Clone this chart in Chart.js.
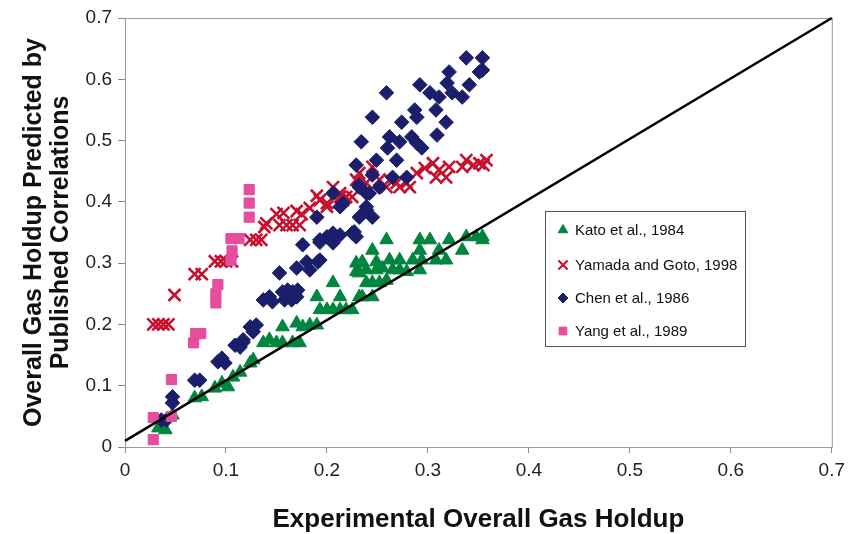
<!DOCTYPE html>
<html>
<head>
<meta charset="utf-8">
<script src="https://cdn.jsdelivr.net/npm/chart.js@4.4.0/dist/chart.umd.min.js"></script>
<style>
  html, body { margin: 0; padding: 0; background: #fff; }
  #wrap { width: 851px; height: 534px; }
</style>
</head>
<body>
<div id="wrap"><canvas id="chart" width="851" height="534"></canvas></div>
<script>
// Kato et al., 1984 (green triangles)
const katoX = [0.033,0.040,0.047,0.069,0.076,0.089,0.096,0.102,0.107,0.114,0.124,0.127,0.137,0.143,0.150,0.156,0.166,0.173,0.156,0.170,0.176,0.183,0.190,0.190,0.193,0.200,0.206,0.213,0.219,0.225,0.213,0.232,0.206,0.229,0.232,0.235,0.245,0.239,0.245,0.252,0.259,0.229,0.239,0.249,0.255,0.265,0.272,0.279,0.235,0.249,0.262,0.272,0.285,0.245,0.259,0.292,0.294,0.308,0.318,0.292,0.292,0.302,0.321,0.311,0.334,0.338,0.348,0.354,0.354];
const katoY = [0.031,0.028,0.052,0.080,0.082,0.096,0.104,0.098,0.114,0.122,0.137,0.142,0.170,0.175,0.170,0.170,0.170,0.170,0.196,0.202,0.196,0.199,0.199,0.245,0.224,0.224,0.224,0.224,0.224,0.224,0.245,0.245,0.268,0.300,0.284,0.245,0.245,0.268,0.268,0.268,0.272,0.286,0.289,0.289,0.292,0.289,0.289,0.286,0.302,0.302,0.305,0.305,0.305,0.321,0.338,0.289,0.305,0.305,0.305,0.321,0.338,0.338,0.338,0.321,0.321,0.343,0.343,0.343,0.338];

// Yamada and Goto, 1998 (red crosses)
const yamadaX = [0.028,0.033,0.038,0.043,0.049,0.069,0.076,0.089,0.095,0.100,0.106,0.124,0.130,0.135,0.138,0.140,0.153,0.160,0.166,0.173,0.150,0.157,0.170,0.175,0.183,0.190,0.200,0.206,0.213,0.219,0.193,0.200,0.213,0.216,0.225,0.229,0.235,0.232,0.239,0.245,0.252,0.259,0.262,0.269,0.272,0.279,0.282,0.289,0.297,0.305,0.311,0.318,0.321,0.308,0.334,0.338,0.351,0.358,0.345,0.355];
const yamadaY = [0.200,0.200,0.200,0.200,0.248,0.282,0.282,0.303,0.303,0.303,0.303,0.338,0.338,0.338,0.359,0.365,0.362,0.362,0.362,0.362,0.380,0.382,0.385,0.380,0.390,0.410,0.398,0.424,0.408,0.408,0.403,0.392,0.414,0.403,0.408,0.436,0.424,0.447,0.431,0.457,0.436,0.424,0.436,0.431,0.424,0.431,0.424,0.447,0.455,0.463,0.452,0.440,0.457,0.440,0.457,0.468,0.463,0.468,0.460,0.460];

// Chen et al., 1986 (navy diamonds)
const chenX = [0.036,0.041,0.047,0.047,0.069,0.074,0.092,0.099,0.096,0.109,0.114,0.117,0.117,0.124,0.130,0.127,0.137,0.143,0.146,0.156,0.161,0.166,0.171,0.158,0.165,0.170,0.153,0.170,0.180,0.183,0.191,0.176,0.193,0.200,0.206,0.213,0.227,0.229,0.190,0.216,0.232,0.239,0.193,0.193,0.206,0.225,0.206,0.213,0.232,0.242,0.239,0.245,0.232,0.239,0.252,0.245,0.265,0.279,0.229,0.249,0.269,0.260,0.234,0.262,0.272,0.284,0.289,0.294,0.245,0.274,0.287,0.289,0.308,0.318,0.309,0.259,0.292,0.302,0.321,0.319,0.338,0.354,0.351,0.354,0.341,0.334,0.324,0.311];
const chenY = [0.044,0.044,0.082,0.072,0.109,0.109,0.139,0.137,0.145,0.166,0.163,0.171,0.175,0.196,0.199,0.188,0.240,0.245,0.237,0.253,0.256,0.253,0.256,0.240,0.240,0.245,0.284,0.292,0.302,0.289,0.302,0.330,0.334,0.343,0.333,0.346,0.351,0.343,0.375,0.398,0.375,0.392,0.338,0.305,0.349,0.349,0.414,0.392,0.424,0.414,0.387,0.375,0.427,0.414,0.424,0.444,0.440,0.440,0.460,0.468,0.468,0.488,0.498,0.506,0.498,0.506,0.496,0.488,0.538,0.530,0.550,0.538,0.550,0.530,0.509,0.578,0.591,0.578,0.612,0.594,0.635,0.635,0.612,0.615,0.591,0.571,0.578,0.571];

// Yang et al., 1989 (pink squares)
const yangX = [0.028,0.028,0.046,0.046,0.068,0.070,0.075,0.090,0.090,0.092,0.105,0.106,0.105,0.113,0.123,0.123,0.123];
const yangY = [0.012,0.048,0.050,0.110,0.170,0.185,0.185,0.235,0.250,0.265,0.305,0.320,0.340,0.340,0.375,0.398,0.420];

// parity line
const lineX = [0, 0.7];
const lineY = [0.01, 0.7];

const axisTicks = [0, 0.1, 0.2, 0.3, 0.4, 0.5, 0.6, 0.7];

const toPoints = (xs, ys) => xs.map((x, i) => ({ x: x, y: ys[i] }));
const fmt = (v) => (Math.abs(v) < 1e-9 ? '0' : v.toFixed(1));

const FONT = 'Arial, "Liberation Sans", Helvetica, sans-serif';
const GREEN = '#00853f';
const RED = '#c8102e';
const NAVY = '#1b1f6b';
const PINK = '#e64d9f';

const series = [
    { label: 'Kato et al., 1984', xs: katoX, ys: katoY, style: 'triangle', color: GREEN, radius: 7.8, lw: 1, lr: 5.5 },
    { label: 'Yamada and Goto, 1998', xs: yamadaX, ys: yamadaY, style: 'crossRot', color: RED, radius: 8.5, lw: 2.6, lr: 6.5 },
    { label: 'Chen et al., 1986', xs: chenX, ys: chenY, style: 'rectRot', color: NAVY, radius: 7.3, lw: 1, lr: 5 },
    { label: 'Yang et al., 1989', xs: yangX, ys: yangY, style: 'rect', color: PINK, radius: 7.2, lw: 1, lr: 5.5 }
];

// 플롯 박스 테두리
const frameBox = {
    id: 'frameBox',
    beforeDatasetsDraw(chart) {
        const { ctx, chartArea: a } = chart;
        ctx.save();
        ctx.strokeStyle = '#9a9a9a';
        ctx.lineWidth = 1;
        ctx.strokeRect(a.left + 0.5, a.top + 0.5, a.right - a.left, a.bottom - a.top);
        ctx.restore();
    }
};

// 플롯 안쪽 범례
const boxLegend = {
    id: 'boxLegend',
    afterDraw(chart) {
        const ctx = chart.ctx;
        const left = 545, top = 211, w = 200, h = 135;
        ctx.save();
        ctx.fillStyle = '#fff';
        ctx.fillRect(left, top, w, h);
        ctx.strokeStyle = '#555';
        ctx.lineWidth = 1;
        ctx.strokeRect(left + 0.5, top + 0.5, w, h);
        ctx.font = '15px ' + FONT;
        ctx.textBaseline = 'middle';
        ctx.textAlign = 'left';
        const rows = [230, 265, 298, 331];
        series.forEach((s, i) => {
            ctx.fillStyle = s.color;
            ctx.strokeStyle = s.color;
            ctx.lineWidth = s.style === 'crossRot' ? 2.2 : 1;
            Chart.helpers.drawPoint(ctx, { pointStyle: s.style, radius: s.lr, rotation: 0, borderWidth: ctx.lineWidth }, 563, rows[i]);
            ctx.fillStyle = '#111';
            ctx.fillText(s.label, 575, rows[i] + 1);
        });
        ctx.restore();
    }
};

const datasets = series.map((s, i) => ({
    type: 'scatter',
    label: s.label,
    data: toPoints(s.xs, s.ys),
    pointStyle: s.style,
    pointRadius: s.radius,
    pointHoverRadius: s.radius,
    pointBackgroundColor: s.color,
    pointBorderColor: s.color,
    pointBorderWidth: s.lw,
    order: 4 - i
}));

datasets.push({
    type: 'line',
    label: 'y = x',
    data: toPoints(lineX, lineY),
    borderColor: '#000',
    borderWidth: 2.5,
    pointRadius: 0,
    fill: false,
    clip: false,
    order: 0
});

new Chart(document.getElementById('chart'), {
    type: 'scatter',
    data: { datasets },
    options: {
        responsive: false,
        animation: false,
        events: [],
        layout: { padding: { top: 18, right: 18, left: 0, bottom: 0 } },
        plugins: {
            legend: { display: false },
            tooltip: { enabled: false }
        },
        scales: {
            x: {
                type: 'linear',
                min: 0,
                max: 0.7,
                afterBuildTicks: (scale) => { scale.ticks = axisTicks.map(v => ({ value: v })); },
                afterFit: (scale) => { scale.height = 87; },
                ticks: {
                    callback: (v) => fmt(v),
                    color: '#222',
                    font: { family: FONT, size: 19 },
                    padding: 6,
                    maxRotation: 0
                },
                grid: { drawOnChartArea: false, drawTicks: true, tickLength: 6, color: '#8a8a8a' },
                border: { display: true, color: '#9a9a9a' },
                title: {
                    display: true,
                    text: 'Experimental Overall Gas Holdup',
                    color: '#111',
                    font: { family: FONT, size: 26, weight: 'bold', lineHeight: 1.1 },
                    padding: { top: 0, bottom: 0 }
                }
            },
            y: {
                type: 'linear',
                min: 0,
                max: 0.7,
                afterBuildTicks: (scale) => { scale.ticks = axisTicks.map(v => ({ value: v })); },
                afterFit: (scale) => { scale.width = 125; },
                ticks: {
                    callback: (v) => fmt(v),
                    color: '#222',
                    font: { family: FONT, size: 19 },
                    padding: 6
                },
                grid: { drawOnChartArea: false, drawTicks: true, tickLength: 7, color: '#8a8a8a' },
                border: { display: true, color: '#9a9a9a' },
                title: {
                    display: true,
                    text: ['Overall Gas Holdup Predicted by', 'Published Correlations'],
                    color: '#111',
                    font: { family: FONT, size: 25, weight: 'bold', lineHeight: 1.08 },
                    padding: { top: 21, bottom: 0 }
                }
            }
        }
    },
    plugins: [frameBox, boxLegend]
});
</script>
</body>
</html>
